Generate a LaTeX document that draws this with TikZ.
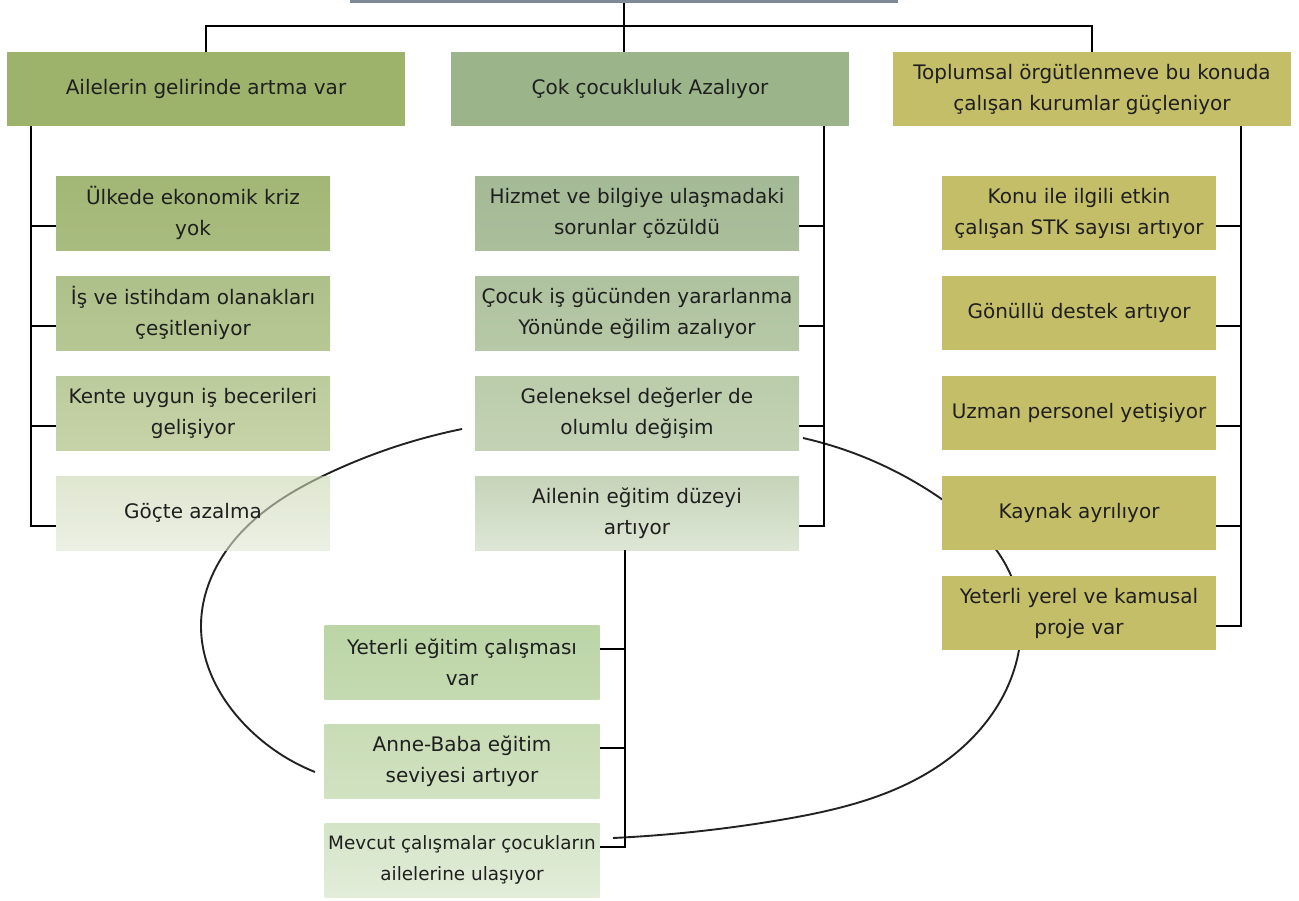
\documentclass[tikz,border=0pt]{standalone}
\usepackage{fontspec}
\setmainfont{DejaVu Sans}
\usetikzlibrary{hobby}
\definecolor{txt}{HTML}{1F1F1F}
\definecolor{barc}{HTML}{7D8996}
\definecolor{ca}{HTML}{9DB36C}
\definecolor{cb}{HTML}{9BB48A}
\definecolor{cc}{HTML}{C4BE68}
\definecolor{lineC}{HTML}{222222}
\definecolor{la}{HTML}{A2B775}\definecolor{lb}{HTML}{A9BC80}
\definecolor{lc}{HTML}{AEC08A}\definecolor{ld}{HTML}{B6C793}
\definecolor{le}{HTML}{BCCB9C}\definecolor{lf}{HTML}{C6D3A8}
\definecolor{lg}{HTML}{CAD6AF}\definecolor{lh}{HTML}{DEE6D2}
\definecolor{ma}{HTML}{A4B995}\definecolor{mb}{HTML}{ABBE9B}
\definecolor{mc}{HTML}{AFC29F}\definecolor{md}{HTML}{B6C8A6}
\definecolor{me}{HTML}{BACCAA}\definecolor{mf}{HTML}{C3D2B5}
\definecolor{mg}{HTML}{C6D4B9}\definecolor{mh}{HTML}{DDE6D5}
\definecolor{ba}{HTML}{BBD5A6}\definecolor{bb}{HTML}{C4DAB1}
\definecolor{bc}{HTML}{C8DCB5}\definecolor{bd}{HTML}{D1E2C1}
\definecolor{be}{HTML}{D3E4C6}\definecolor{bf}{HTML}{E3EDDA}
\begin{document}
\begin{tikzpicture}[x=1pt,y=-1pt,
  bx/.style={rectangle, inner sep=0pt, align=center, text=txt,
    minimum height=74pt, font=\fontsize{20}{31}\selectfont},
  topbox/.style={bx, minimum width=398pt},
  lbox/.style={bx, minimum width=274pt},
  mbox/.style={bx, minimum width=324pt},
  rbox/.style={bx, minimum width=274pt, fill=cc},
  bbox/.style={bx, minimum width=275pt},
  conn/.style={draw=black, line width=2.6pt},
  loop/.style={draw=lineC, line width=1.9pt, use Hobby shortcut}]
\useasboundingbox (0,0) rectangle (1299,900);
% loops (behind boxes)
\draw[loop] (462,429) .. (327,474) .. (232,543) .. (201,625) .. (247,727) .. (315,772);
\draw[loop] (803,438) .. (943,500) .. (1012,578) .. (1018,655) .. (947,760) .. (780,820) .. (613,838);
% root bar
\node[rectangle, fill=barc, minimum width=548pt, minimum height=4pt, inner sep=0pt] (root) at (624,1) {};
% top boxes
\node[topbox, fill=ca] (A) at (206,89) {Ailelerin gelirinde artma var};
\node[topbox, fill=cb] (B) at (650,89) {Çok çocukluluk Azalıyor};
\node[topbox, fill=cc] (C) at (1092,89) {Toplumsal örgütlenmeve bu konuda\\çalışan kurumlar güçleniyor};
% left column
\node[lbox, top color=la, bottom color=lb] (L1) at (193,213) {Ülkede ekonomik kriz\\yok};
\node[lbox, top color=lc, bottom color=ld] (L2) at (193,313) {İş ve istihdam olanakları\\çeşitleniyor};
\node[lbox, top color=le, bottom color=lf] (L3) at (193,413) {Kente uygun iş becerileri\\gelişiyor};
\node[lbox, top color=lg, bottom color=lh, fill opacity=0.6, text opacity=1] (L4) at (193,513) {Göçte azalma};
% middle column
\node[mbox, top color=ma, bottom color=mb] (M1) at (637,213) {Hizmet ve bilgiye ulaşmadaki\\sorunlar çözüldü};
\node[mbox, top color=mc, bottom color=md] (M2) at (637,313) {Çocuk iş gücünden yararlanma\\Yönünde eğilim azalıyor};
\node[mbox, top color=me, bottom color=mf] (M3) at (637,413) {Geleneksel değerler de\\olumlu değişim};
\node[mbox, top color=mg, bottom color=mh] (M4) at (637,513) {Ailenin eğitim düzeyi\\artıyor};
% right column
\node[rbox] (R1) at (1079,213) {Konu ile ilgili etkin\\çalışan STK sayısı artıyor};
\node[rbox] (R2) at (1079,313) {Gönüllü destek artıyor};
\node[rbox] (R3) at (1079,413) {Uzman personel yetişiyor};
\node[rbox] (R4) at (1079,513) {Kaynak ayrılıyor};
\node[rbox] (R5) at (1079,613) {Yeterli yerel ve kamusal\\proje var};
% bottom column
\node[bbox, top color=ba, bottom color=bb] (B1) at (462,662) {Yeterli eğitim çalışması\\var};
\node[bbox, top color=bc, bottom color=bd] (B2) at (462,761) {Anne-Baba eğitim\\seviyesi artıyor};
\node[bbox, top color=be, bottom color=bf, font=\fontsize{18.4}{31}\selectfont] (B3) at (462,860) {Mevcut çalışmalar çocukların\\ailelerine ulaşıyor};
% spine coordinates
\coordinate (xL) at (31,0);
\coordinate (xM) at (824,0);
\coordinate (xR) at (1241,0);
\coordinate (xB) at (625,0);
% top connectors
\draw[conn] (root.south) -- (root.south |- B.north);
\draw[conn] (A.north) -- ++(0,-26) -| (C.north);
% left
\draw[conn] (A.south -| xL) -- ([yshift=-13pt]L4.west -| xL) -- ([yshift=-13pt]L4.west);
\foreach \n in {L1,L2,L3} \draw[conn] ([yshift=-13pt]\n.west -| xL) -- ([yshift=-13pt]\n.west);
% middle
\draw[conn] (B.south -| xM) -- ([yshift=-13pt]M4.east -| xM) -- ([yshift=-13pt]M4.east);
\foreach \n in {M1,M2,M3} \draw[conn] ([yshift=-13pt]\n.east -| xM) -- ([yshift=-13pt]\n.east);
% right
\draw[conn] (C.south -| xR) -- ([yshift=-13pt]R5.east -| xR) -- ([yshift=-13pt]R5.east);
\foreach \n in {R1,R2,R3,R4} \draw[conn] ([yshift=-13pt]\n.east -| xR) -- ([yshift=-13pt]\n.east);
% bottom
\draw[conn] (M4.south -| xB) -- ([yshift=13pt]B3.east -| xB) -- ([yshift=13pt]B3.east);
\foreach \n in {B1,B2} \draw[conn] ([yshift=13pt]\n.east -| xB) -- ([yshift=13pt]\n.east);
\end{tikzpicture}
\end{document}
